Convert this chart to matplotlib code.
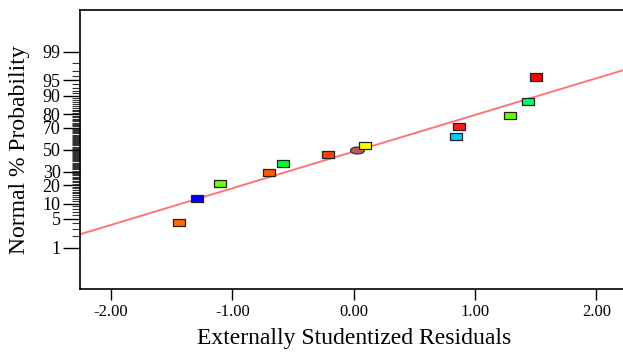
from statistics import NormalDist

import matplotlib.pyplot as plt
import numpy as np

# residuals, in rank order
residuals = [-1.44, -1.29, -1.10, -0.70, -0.58, -0.21, 0.09, 0.84, 0.87, 1.29, 1.44, 1.50]
probabilities = [4.17, 12.5, 20.8, 29.2, 37.5, 45.8, 54.2, 62.5, 70.8, 79.2, 87.5, 95.8]
colors = ["#ff6a00", "#0000ff", "#66ff00", "#ff5a00", "#00ff2a", "#ff4000",
          "#ffff00", "#00ccff", "#ff1a1a", "#66ff00", "#00ff66", "#ff0000"]

# extra ellipse point near the centre
ellipse_residual = 0.03
ellipse_probability = 50.0

# fitted reference line (in normal score units)
line_slope = 0.871
line_intercept = -0.045

major_ticks = [1, 5, 10, 20, 30, 50, 70, 80, 90, 95, 99]
x_ticks = [-2.0, -1.0, 0.0, 1.0, 2.0]

nd = NormalDist()


def probit(p):
    return nd.inv_cdf(p / 100.0)


plt.rcParams["font.family"] = ["Liberation Serif", "DejaVu Serif"]

fig = plt.figure(figsize=(6.23, 3.54), dpi=100)
ax = fig.add_axes([0.1284, 0.1836, 0.8716, 0.7882])

xlim = (-2.256, 2.22)
ax.set_xlim(*xlim)
ax.set_ylim(-3.31, 3.32)

xs = np.array(xlim)
ax.plot(xs, line_intercept + line_slope * xs, color="#ff7575", lw=1.4, zorder=1)

rect = [(-0.85, -0.5), (0.85, -0.5), (0.85, 0.5), (-0.85, 0.5), (-0.85, -0.5)]
zs = [probit(p) for p in probabilities]
ax.scatter(residuals, zs, marker=rect, s=76, c=colors,
           edgecolors="#222222", linewidths=0.9, zorder=3)

ell = [(np.cos(t), 0.5 * np.sin(t)) for t in np.linspace(0, 2 * np.pi, 41)]
ax.scatter([ellipse_residual], [probit(ellipse_probability)], marker=ell, s=100,
           c="#c05a5a", edgecolors="#333333", linewidths=0.9, zorder=2)

ax.set_xticks(x_ticks)
ax.set_xticklabels([f"{v:.2f}" for v in x_ticks], fontsize=12)
ax.tick_params(axis="x", direction="out", length=8, width=1, pad=3)

ax.set_yticks([probit(p) for p in major_ticks])
ax.set_yticklabels([str(p) for p in major_ticks], fontsize=13)
minor = [p for p in range(1, 100) if p not in major_ticks]
ax.set_yticks([probit(p) for p in minor], minor=True)
ax.tick_params(axis="y", which="major", direction="out", length=12, width=1, pad=2)
ax.tick_params(axis="y", which="minor", direction="out", length=6, width=0.8,
               color="#333333")

ax.spines["right"].set_visible(False)
for side in ["left", "top", "bottom"]:
    ax.spines[side].set_linewidth(1.2)

ax.set_xlabel("Externally Studentized Residuals", fontsize=17, va="center")
ax.set_ylabel("Normal % Probability", fontsize=17, va="center")
ax.xaxis.set_label_coords(0.504, -0.176)
ax.yaxis.set_label_coords(-0.111, 0.5)

fig.savefig("out.png", dpi=100)
